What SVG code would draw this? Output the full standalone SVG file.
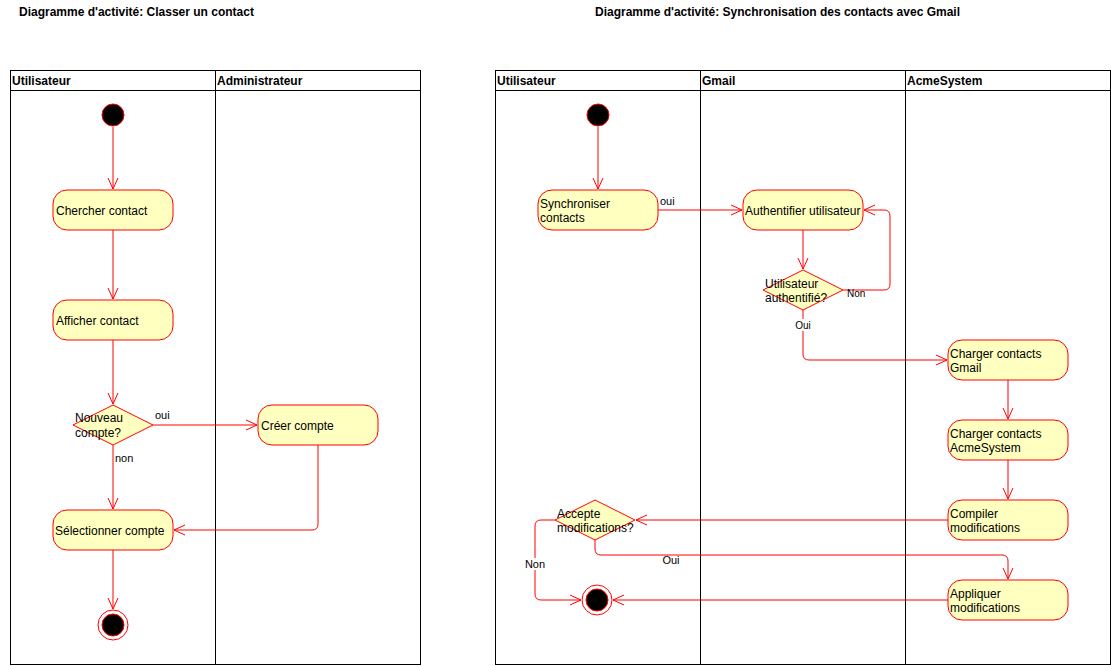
<svg xmlns="http://www.w3.org/2000/svg" width="1111" height="666" viewBox="0 0 1111 666">
<style>
text{font-family:"Liberation Sans",Arial,sans-serif;font-size:12px;fill:#000}
.t{font-weight:bold}
.lbl{font-size:11px}
.pool{fill:none;stroke:#000;stroke-width:1}
.act{fill:#ffffc0;stroke:#ff0000;stroke-width:1}
.init{fill:#000;stroke:#ff0000;stroke-width:1}
.fin{fill:none;stroke:#ff0000;stroke-width:1}
.e{fill:none;stroke:#ff0000;stroke-width:1;marker-end:url(#arr)}
</style>
<defs>
<marker id="arr" viewBox="0 0 12 12" refX="11" refY="6" markerWidth="12" markerHeight="12" markerUnits="userSpaceOnUse" orient="auto">
<path d="M0,1 L11,6 L0,11" fill="none" stroke="#ff0000" stroke-width="1"/>
</marker>
</defs>
<rect width="1111" height="666" fill="#fff"/>

<text class="t" x="19" y="16">Diagramme d'activité: Classer un contact</text>
<text class="t" x="595" y="16">Diagramme d'activité: Synchronisation des contacts avec Gmail</text>

<g id="pool1">
<rect class="pool" x="10.5" y="70.5" width="410" height="594"/>
<line class="pool" x1="10.5" y1="90.5" x2="420.5" y2="90.5"/>
<line class="pool" x1="215.5" y1="70.5" x2="215.5" y2="664.5"/>
<text class="t" x="12" y="85">Utilisateur</text>
<text class="t" x="217" y="85">Administrateur</text>
</g>

<g id="pool2">
<rect class="pool" x="495.5" y="70.5" width="615" height="594"/>
<line class="pool" x1="495.5" y1="90.5" x2="1110.5" y2="90.5"/>
<line class="pool" x1="700.5" y1="70.5" x2="700.5" y2="664.5"/>
<line class="pool" x1="905.5" y1="70.5" x2="905.5" y2="664.5"/>
<text class="t" x="497" y="85">Utilisateur</text>
<text class="t" x="702" y="85">Gmail</text>
<text class="t" x="907" y="85">AcmeSystem</text>
</g>

<g id="connectors">
<path class="e" d="M113,127 L113,189"/>
<path class="e" d="M113,230 L113,299"/>
<path class="e" d="M113,340 L113,404"/>
<path class="e" d="M153,425 L257,425"/>
<path class="e" d="M113,445 L113,509"/>
<path class="e" d="M318,445 L318,524 Q318,530 312,530 L174,530"/>
<path class="e" d="M113,550 L113,609"/>

<path class="e" d="M598,127 L598,189"/>
<path class="e" d="M658,210 L742,210"/>
<path class="e" d="M803,230 L803,269"/>
<path class="e" d="M843,290 L884,290 Q890,290 890,284 L890,216 Q890,210 884,210 L864,210"/>
<path class="e" d="M803,310 L803,354 Q803,360 809,360 L947,360"/>
<path class="e" d="M1008,380 L1008,419"/>
<path class="e" d="M1008,460 L1008,499"/>
<path class="e" d="M948,520 L636,520"/>
<path class="e" d="M595,540 L595,549 Q595,555 601,555 L1002,555 Q1008,555 1008,561 L1008,579"/>
<path class="e" d="M555,520 L541,520 Q535,520 535,526 L535,594 Q535,600 541,600 L581,600"/>
<path class="e" d="M948,600 L613,600"/>
<text class="lbl" x="155" y="419">oui</text>
<text class="lbl" x="115" y="462">non</text>
<text class="lbl" x="660" y="205">oui</text>
<text class="lbl" x="847" y="297" style="font-size:10px">Non</text>
<rect x="793" y="319" width="20" height="12" fill="#fff"/>
<text class="lbl" x="803" y="329" text-anchor="middle" style="font-size:10px">Oui</text>
<rect x="660" y="556" width="22" height="12" fill="#fff"/>
<text class="lbl" x="671" y="564" text-anchor="middle">Oui</text>
<rect x="524" y="558" width="22" height="12" fill="#fff"/>
<text class="lbl" x="535" y="568" text-anchor="middle">Non</text>
</g>

<g id="start1"><circle class="init" cx="113" cy="115" r="11"/></g>
<g id="chercher"><rect class="act" x="53" y="190" width="120" height="40" rx="14"/><text x="56" y="215">Chercher contact</text></g>
<g id="afficher"><rect class="act" x="53" y="300" width="120" height="40" rx="14"/><text x="56" y="325">Afficher contact</text></g>
<g id="nouveau"><path class="act" d="M113,405 L153,425 L113,445 L73,425 Z"/><text x="75" y="422">Nouveau</text><text x="75" y="437">compte?</text></g>
<g id="creer"><rect class="act" x="258" y="405" width="120" height="40" rx="14"/><text x="261" y="430">Créer compte</text></g>
<g id="selectionner"><rect class="act" x="53" y="510" width="120" height="40" rx="14"/><text x="55" y="535">Sélectionner compte</text></g>
<g id="end1"><circle class="fin" cx="113" cy="625" r="15"/><circle class="init" cx="113" cy="625" r="11"/></g>

<g id="start2"><circle class="init" cx="598" cy="115" r="11"/></g>
<g id="sync"><rect class="act" x="538" y="190" width="120" height="40" rx="14"/><text x="540" y="208">Synchroniser</text><text x="540" y="222">contacts</text></g>
<g id="auth"><rect class="act" x="743" y="190" width="120" height="40" rx="14"/><text x="745" y="215">Authentifier utilisateur</text></g>
<g id="authq"><path class="act" d="M803,270 L843,290 L803,310 L763,290 Z"/><text x="765" y="288">Utilisateur</text><text x="765" y="302">authentifié?</text></g>
<g id="chgmail"><rect class="act" x="948" y="340" width="120" height="40" rx="14"/><text x="950" y="358">Charger contacts</text><text x="950" y="372">Gmail</text></g>
<g id="chacme"><rect class="act" x="948" y="420" width="120" height="40" rx="14"/><text x="950" y="438">Charger contacts</text><text x="950" y="452">AcmeSystem</text></g>
<g id="compiler"><rect class="act" x="948" y="500" width="120" height="40" rx="14"/><text x="950" y="518">Compiler</text><text x="950" y="532">modifications</text></g>
<g id="accepte"><path class="act" d="M595,500 L635,520 L595,540 L555,520 Z"/><text x="557" y="518">Accepte</text><text x="557" y="532">modifications?</text></g>
<g id="appliquer"><rect class="act" x="948" y="580" width="120" height="40" rx="14"/><text x="950" y="598">Appliquer</text><text x="950" y="612">modifications</text></g>
<g id="end2"><circle class="fin" cx="597" cy="600" r="15"/><circle class="init" cx="597" cy="600" r="11"/></g>
</svg>
